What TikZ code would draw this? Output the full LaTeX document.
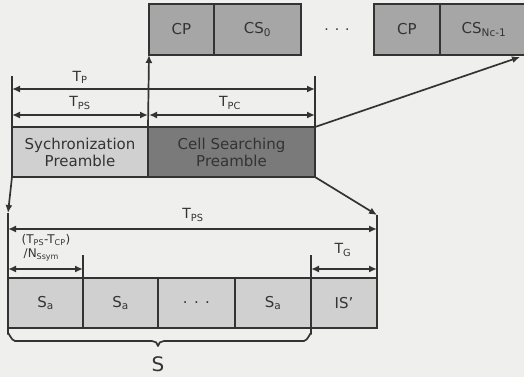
\documentclass[tikz,border=0pt]{standalone}
\usepackage{fontspec}
\setmainfont{DejaVu Sans}
\usetikzlibrary{arrows.meta}
\definecolor{bg}{HTML}{EFEFED}
\definecolor{ink}{HTML}{333333}
\definecolor{light}{HTML}{D0D0D0}
\definecolor{mid}{HTML}{A6A6A6}
\definecolor{dark}{HTML}{7A7A7A}
\tikzset{
  box/.style={draw=ink, line width=1.7pt, inner sep=0pt, outer sep=0pt, text=ink,
    font=\fontsize{15}{17}\selectfont, align=center},
  ln/.style={draw=ink, line width=1.7pt},
  arr/.style={ln, -{Latex[length=8pt,width=7pt]}},
  dim/.style={ln, {Latex[length=8pt,width=7pt]}-{Latex[length=8pt,width=7pt]}},
  lbl/.style={text=ink, inner sep=0pt, font=\fontsize{14}{16}\selectfont},
}
\begin{document}
\begin{tikzpicture}[x=1pt,y=-1pt]
\useasboundingbox (0,0) rectangle (524,377);
\fill[bg] (0,0) rectangle (524,377);

% top row
\node[box, fill=mid, minimum width=65pt, minimum height=51pt] (cpa) at (181.5,29.5) {CP};
\node[box, fill=mid, minimum width=87pt, minimum height=51pt] (csa) at (257.5,29.5) {CS\textsubscript{0}};
\node[lbl] (dots1) at (337,30) {. . .};
\node[box, fill=mid, minimum width=66pt, minimum height=51pt] (cpb) at (407,29.5) {CP};
\node[box, fill=mid, minimum width=88pt, minimum height=51pt] (csb) at (484,29.5) {CS\textsubscript{Nc-1}};

% preamble row
\node[box, fill=light, minimum width=136pt, minimum height=50pt] (sync) at (80,152) {Sychronization\\Preamble};
\node[box, fill=dark, minimum width=167pt, minimum height=50pt] (cell) at (231.5,152) {Cell Searching\\Preamble};

% extension lines
\coordinate (e1) at (12,76);
\coordinate (e2) at (315,76);
\draw[ln] (e1) -- (sync.south west);
\draw[ln] (e2) -- (cell.south east);

% dimensions top
\coordinate (tpL) at (12,89);
\coordinate (tpR) at (315,89);
\draw[dim] (tpL) -- (tpR);
\node[lbl] (tp) at (80,77) {T\textsubscript{P}};
\coordinate (tpsL) at (12,115);
\coordinate (tpsR) at (148,115);
\coordinate (tpcL) at (149,115);
\coordinate (tpcR) at (315,115);
\draw[dim] (tpsL) -- (tpsR);
\draw[dim] (tpcL) -- (tpcR);
\node[lbl] (tps) at (80,103) {T\textsubscript{PS}};
\node[lbl] (tpc) at (230,103) {T\textsubscript{PC}};

% arrows up
\draw[arr] (sync.north east) -- (cpa.south west);
\coordinate (diagEnd) at (520,57);
\draw[arr] (cell.north east) -- (diagEnd);

% bottom row
\node[box, fill=light, minimum width=75pt, minimum height=50pt] (s1) at (45.5,303) {S\textsubscript{a}};
\node[box, fill=light, minimum width=75pt, minimum height=50pt] (s2) at (120.5,303) {S\textsubscript{a}};
\node[box, fill=light, minimum width=77pt, minimum height=50pt] (s3) at (196.5,303) {. . .};
\node[box, fill=light, minimum width=76pt, minimum height=50pt] (s4) at (273,303) {S\textsubscript{a}};
\node[box, fill=light, minimum width=66pt, minimum height=50pt] (is) at (344,303) {IS’};

% zoom lines
\coordinate (zl) at (8,213);
\coordinate (zr) at (377,215);
\draw[arr] (sync.south west) -- (zl);
\draw[arr] (cell.south east) -- (zr);
\draw[ln] (zr) -- (is.south east);

% bottom dimensions
\coordinate (bL) at (8,229);
\coordinate (bR) at (377,229);
\draw[dim] (bL) -- (bR);
\node[lbl] (btps) at (193,215) {T\textsubscript{PS}};
\coordinate (x1) at (83,255);
\draw[ln] (x1) -- (s1.north east);
\coordinate (dL) at (8,269);
\coordinate (dR) at (83,269);
\draw[dim] (dL) -- (dR);
\node[lbl, font=\fontsize{12}{13}\selectfont, align=left] (frac) at (46,248) {(T\textsubscript{PS}-T\textsubscript{CP})\\[1pt]\,/N\textsubscript{Ssym}};
\coordinate (gL) at (311,269);
\coordinate (gR) at (377,269);
\draw[dim] (gL) -- (gR);
\node[lbl] (tg) at (343,250) {T\textsubscript{G}};

% brace with side lines
\coordinate (x2) at (311,255);
\draw[ln, line join=round] (zl) -- (8,334) to[out=90,in=180] (15,341) -- (152,341)
  to[out=0,in=90] (158,346) to[out=90,in=180] (164,341) -- (304,341)
  to[out=0,in=90] (311,334) -- (x2);
\node[lbl, font=\fontsize{20}{22}\selectfont] (S) at (158,364) {S};
\end{tikzpicture}
\end{document}
